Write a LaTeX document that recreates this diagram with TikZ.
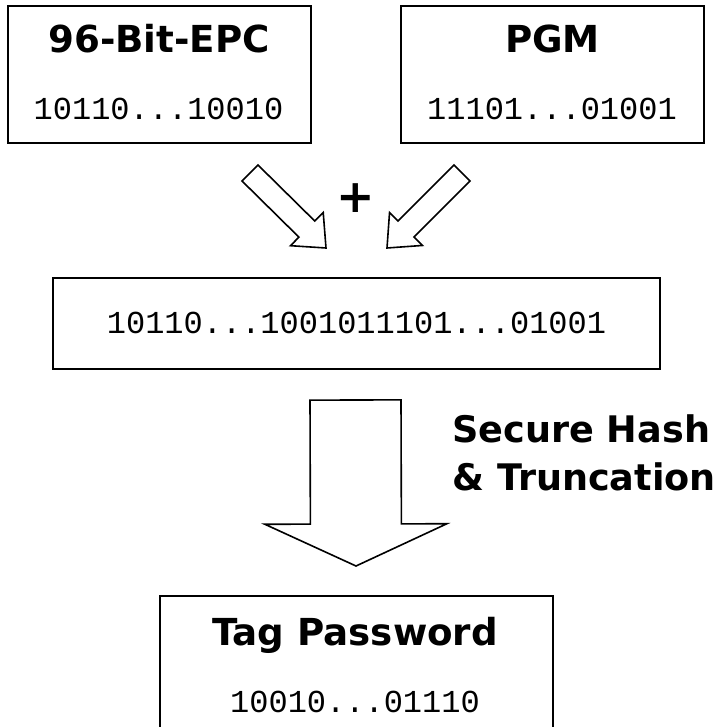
\documentclass[tikz,border=0pt]{standalone}
\usepackage{fontspec}
\setsansfont{DejaVu Sans}
\setmonofont{Liberation Mono}
\usetikzlibrary{positioning,calc}

% hollow block arrow: #1 tail, #2 tip, #3 half shaft, #4 half head, #5 head length
\newcommand{\blockarrow}[5]{%
  \coordinate (ba-neck) at ($(#2)!#5!(#1)$);
  \draw[blockline] ($(#1)!#3!90:(#2)$) -- ($(ba-neck)!#3!90:(#2)$)
    -- ($(ba-neck)!#4!90:(#2)$) -- (#2) -- ($(ba-neck)!#4!-90:(#2)$)
    -- ($(ba-neck)!#3!-90:(#2)$) -- ($(#1)!#3!-90:(#2)$) -- cycle;}

\begin{document}
\begin{tikzpicture}[x=0.5pt, y=-0.5pt,
    box/.style={draw, line width=1pt, inner sep=0pt},
    title/.style={font=\sffamily\bfseries\fontsize{18.6}{22}\selectfont, inner sep=0pt, anchor=base},
    bits/.style={font=\ttfamily\fontsize{16}{19}\selectfont, inner sep=0pt, anchor=base},
    blockline/.style={line width=0.8pt, line join=miter, fill=white}]
  \useasboundingbox (0,0) rectangle (724,727);

  % input words
  \node[box, minimum width=151.5pt, minimum height=68.5pt] (epc) at (159.5,74.5) {};
  \node[box, minimum width=151.5pt, minimum height=68.5pt] (pgm) at (552.5,74.5) {};
  \node[title] (epctitle) at (159,53) {96-Bit-EPC};
  \node[bits] (epcbits) at (158.5,120) {10110...10010};
  \node[title] (pgmtitle) at (552.5,53) {PGM};
  \node[bits] (pgmbits) at (552,120) {11101...01001};

  % concatenation
  \node[box, minimum width=303.5pt, minimum height=45.5pt] (concat) at (356.5,323.5) {};
  \node[bits] (concatbits) at (356.5,333) {10110...1001011101...01001};
  \node[font=\sffamily\bfseries\fontsize{23}{26}\selectfont, inner sep=0pt] (plus) at (356,198) {+};

  % output
  \node[box, minimum width=196.5pt, minimum height=67pt] (tagpw) at (356,663) {};
  \node[title] (tagtitle) at (355,645) {Tag Password};
  \node[bits] (tagbits) at (355,712) {10010...01110};

  \coordinate (epcout) at (250,173);
  \coordinate (epctip) at (326,248);
  \coordinate (pgmout) at (462,173);
  \coordinate (pgmtip) at (387,248);
  \coordinate (hashin) at (355.5,400);
  \coordinate (hashtip) at (356,566);

  \blockarrow{epcout}{epctip}{5.65pt}{11.65pt}{13.45pt}
  \blockarrow{pgmout}{pgmtip}{5.65pt}{11.65pt}{13.45pt}
  \blockarrow{hashin}{hashtip}{22.75pt}{45.5pt}{21pt}

  \node[font=\sffamily\bfseries\fontsize{18.3}{24}\selectfont, align=left,
        inner sep=0pt, anchor=north west] (hashlabel) at (452,414.5)
    {Secure Hash\\ \& Truncation};
\end{tikzpicture}
\end{document}
